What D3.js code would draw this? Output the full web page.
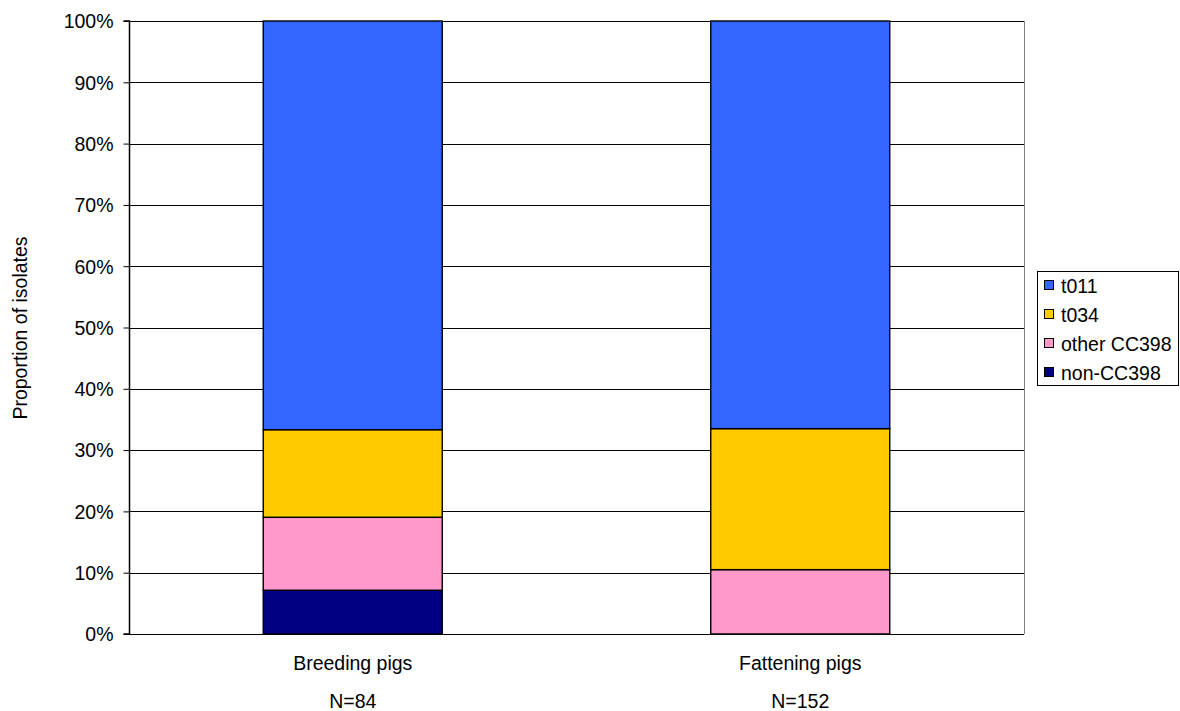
<!DOCTYPE html>
<html><head><meta charset="utf-8">
<script src="https://cdn.jsdelivr.net/npm/d3@7/dist/d3.min.js"></script>
<style>body{margin:0;background:#fff}svg{display:block;font-family:"Liberation Sans",Arial,sans-serif}</style>
</head><body><svg id="c" width="1180" height="711"></svg>
<script>
const categories = ["Breeding pigs", "Fattening pigs"];
const sampleSizes = ["N=84", "N=152"];
const seriesNames = ["non-CC398", "other CC398", "t034", "t011"];
const nonCC398 = [7.14, 0];
const otherCC398 = [11.9, 10.5];
const t034 = [14.29, 23.0];
const t011 = [66.67, 66.5];
const seriesColors = ["#000080", "#FF99CC", "#FFCC00", "#3366FF"];
const yTicks = [0,10,20,30,40,50,60,70,80,90,100];

const FS = 19.5;
const svg = d3.select("#c");
const L=129, R=1024, T=21, B=634;
const x = d3.scaleBand().domain(categories).range([L,R]).paddingInner(0.6).paddingOuter(0.3);
const y = d3.scaleLinear().domain([0,100]).range([B,T]);

const rows = categories.map((c,i)=>({cat:c,"non-CC398":nonCC398[i],"other CC398":otherCC398[i],"t034":t034[i],"t011":t011[i]}));
const stack = d3.stack().keys(seriesNames)(rows);

// gridlines
svg.append("g").selectAll("line").data(yTicks).join("line")
  .attr("x1",L).attr("x2",R).attr("y1",d=>Math.round(y(d))+0.5).attr("y2",d=>Math.round(y(d))+0.5)
  .attr("stroke","#000").attr("stroke-width",1);
// right border
svg.append("line").attr("x1",R+0.5).attr("x2",R+0.5).attr("y1",T).attr("y2",B).attr("stroke","#808080");

// bars
stack.forEach((s,si)=>{
  svg.append("g").selectAll("rect").data(s.filter(d=>d[1]-d[0]>0)).join("rect")
    .attr("x",d=>x(d.data.cat)).attr("width",x.bandwidth())
    .attr("y",d=>y(d[1])).attr("height",d=>y(d[0])-y(d[1]))
    .attr("fill",seriesColors[si]).attr("stroke","#000").attr("stroke-width",1.4);
});

// y axis
const ya = d3.axisLeft(y).tickValues(yTicks).tickFormat(d=>d+"%").tickSize(6).tickPadding(10);
const yg = svg.append("g").attr("transform",`translate(${L+0.5},0)`).call(ya);
yg.select(".domain").attr("stroke","#000").attr("stroke-width",1.5).attr("d",`M-6,${T}H0V${B}H-6`);
yg.selectAll(".tick line").attr("stroke","#000");
yg.selectAll("text").attr("font-size",FS).attr("font-family","Liberation Sans, Arial, sans-serif").attr("fill","#000").attr("dy","0.35em");

// x axis labels
const xg = svg.append("g");
xg.selectAll("text.cat").data(categories).join("text").attr("class","cat")
  .attr("x",d=>x(d)+x.bandwidth()/2).attr("y",670).attr("text-anchor","middle")
  .attr("font-size",FS).text(d=>d);
xg.selectAll("text.n").data(sampleSizes).join("text").attr("class","n")
  .attr("x",(d,i)=>x(categories[i])+x.bandwidth()/2).attr("y",708).attr("text-anchor","middle")
  .attr("font-size",FS).text(d=>d);

// y title
svg.append("text").attr("transform",`translate(27,${(T+B)/2+0.5}) rotate(-90)`).attr("text-anchor","middle")
  .attr("font-size",FS).text("Proportion of isolates");

// legend
const lg = svg.append("g");
lg.append("rect").attr("x",1037.5).attr("y",271.5).attr("width",141).attr("height",114)
  .attr("fill","#fff").attr("stroke","#000");
const legendOrder = [3,2,1,0];
legendOrder.forEach((si,k)=>{
  const cy = 286 + k*29;
  lg.append("rect").attr("x",1044.5).attr("y",cy-5.5).attr("width",9).attr("height",9)
    .attr("fill",seriesColors[si]).attr("stroke","#000");
  lg.append("text").attr("x",1061).attr("y",cy+7).attr("font-size",FS).text(seriesNames[si]);
});
</script></body></html>
